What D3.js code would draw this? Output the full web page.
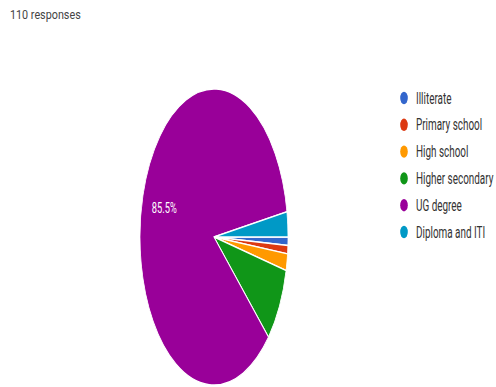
<!DOCTYPE html>
<html>
<head>
<meta charset="utf-8">
<script src="https://cdn.jsdelivr.net/npm/d3@7"></script>
<style>
  body { margin: 0; background: #fff; }
  text { font-family: Roboto, "Noto Sans", sans-serif; }
</style>
</head>
<body>
<div id="chart"></div>
<script>
// Data (110 responses)
var categories = ['Illiterate', 'Primary school', 'High school', 'Higher secondary', 'UG degree', 'Diploma and ITI'];
var counts = [1, 1, 2, 9, 94, 3];
var colors = ['#3366cc', '#dc3912', '#ff9900', '#109618', '#990099', '#0099c6'];
var totalLabel = '110 responses';

var width = 496;
var height = 387;
var radius = 148;
var cx = 214, cy = 237;

var svg = d3.select('#chart').append('svg')
    .attr('width', width)
    .attr('height', height);

var total = d3.sum(counts);
var slices = categories.map(function(c, i) {
  return { name: c, value: counts[i], color: colors[i] };
});

// Pie starts at 3 o'clock and goes clockwise, in data order
var pie = d3.pie()
    .sort(null)
    .value(function(d) { return d.value; })
    .startAngle(Math.PI / 2)
    .endAngle(Math.PI / 2 + 2 * Math.PI);

var arc = d3.arc().innerRadius(0).outerRadius(radius);
var labelArc = d3.arc().innerRadius(radius * 0.7).outerRadius(radius * 0.7);

// the picture is squashed sideways, so squash the pie the same way
var g = svg.append('g')
    .attr('transform', 'translate(' + cx + ',' + cy + ') scale(0.5,1)');

var arcs = pie(slices);

g.selectAll('path')
    .data(arcs)
    .enter().append('path')
    .attr('d', arc)
    .style('fill', function(d) { return d.data.color; })
    .style('stroke', '#fff')
    .style('stroke-width', 1.5);

// percentage label only on slices big enough
svg.selectAll('text.pct')
    .data(arcs.filter(function(d) { return d.data.value / total > 0.1; }))
    .enter().append('text')
    .attr('class', 'pct')
    .attr('transform', function(d) {
      var c = labelArc.centroid(d);
      return 'translate(' + (cx + c[0] * 0.5) + ',' + (cy + c[1]) + ') scale(0.62,1)';
    })
    .attr('text-anchor', 'middle')
    .attr('dy', '0.35em')
    .style('font-size', '15px')
    .style('fill', '#fff')
    .text(function(d) { return (d.data.value / total * 100).toFixed(1) + '%'; });

// header
svg.append('text')
    .attr('transform', 'translate(10,19) scale(0.83,1)')
    .style('font-size', '13px')
    .style('fill', '#444')
    .text(totalLabel);

// legend
var legendY = d3.scalePoint()
    .domain(categories)
    .range([98, 232]);

var legend = svg.selectAll('g.legend')
    .data(slices)
    .enter().append('g')
    .attr('class', 'legend')
    .attr('transform', function(d) { return 'translate(404,' + legendY(d.name) + ')'; });

legend.append('ellipse')
    .attr('rx', 3.8)
    .attr('ry', 6.2)
    .style('fill', function(d) { return d.color; });

legend.append('text')
    .attr('transform', 'translate(12,0) scale(0.62,1)')
    .attr('dy', '0.35em')
    .style('font-size', '16px')
    .style('fill', '#333')
    .text(function(d) { return d.name; });
</script>
</body>
</html>
